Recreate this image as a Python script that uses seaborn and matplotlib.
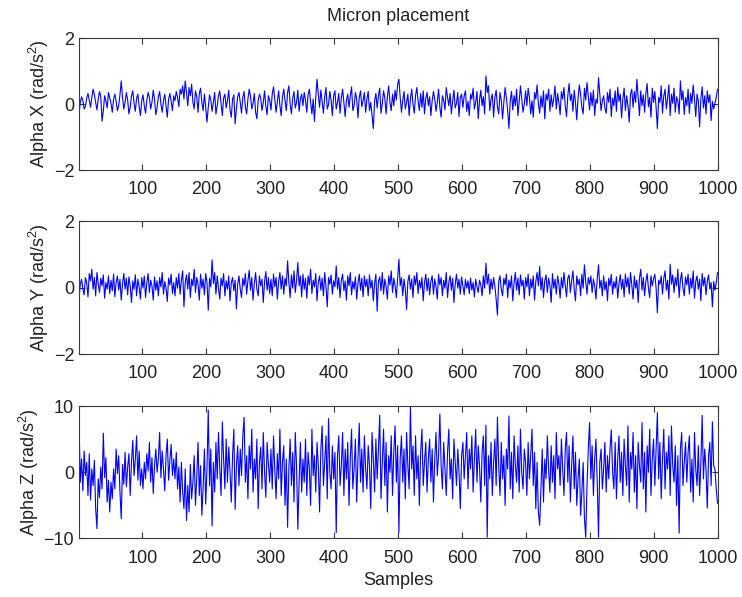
import numpy as np
import pandas as pd
import matplotlib
matplotlib.use("Agg")
import matplotlib.pyplot as plt
import seaborn as sns

# Angular acceleration traces (rad/s^2), evenly spread over samples 1..1000
alpha_x = [
    -0.30, 0.05, 0.22, 0.10, -0.15, -0.08, 0.18, 0.32, 0.12, -0.10, 0.20, 0.45, 0.28, 0.05, -0.18, 0.15, 0.38, 0.22, -0.52, -0.20, 0.25, 0.10, -0.12, 0.35, 0.18,
    0.02, -0.25, 0.15, 0.30, 0.08, -0.20, -0.05, 0.28, 0.70, 0.20, -0.15, 0.05, 0.35, 0.12, -0.30, -0.10, 0.25, 0.40, 0.02, -0.22, 0.18, 0.30, -0.08, -0.35, 0.10,
    0.28, -0.05, -0.28, 0.12, 0.35, 0.20, -0.15, 0.05, 0.42, 0.15, -0.32, -0.12, 0.22, 0.38, 0.00, -0.25, 0.10, 0.30, -0.05, -0.40, 0.15, 0.32, 0.08, -0.20, 0.25,
    0.10, 0.38, 0.20, -0.08, 0.45, 0.30, 0.55, 0.15, 0.70, 0.35, -0.05, 0.50, 0.25, 0.60, 0.05, -0.15, 0.40, 0.22, -0.25, 0.32, 0.48, 0.05, -0.20, 0.30, -0.10,
    -0.55, -0.10, 0.28, 0.12, -0.22, 0.05, 0.35, -0.30, -0.05, 0.25, 0.40, 0.02, -0.35, 0.18, 0.30, -0.12, 0.10, 0.42, -0.18, -0.40, 0.15, 0.28, -0.60, -0.15, 0.22,
    0.35, 0.05, -0.28, 0.20, 0.38, -0.10, -0.30, 0.15, 0.45, 0.25, -0.15, 0.02, 0.32, -0.25, -0.45, 0.10, 0.30, 0.18, -0.20, 0.05, 0.40, -0.08, -0.32, 0.25, 0.12,
    -0.18, 0.30, 0.52, 0.15, -0.25, 0.08, 0.40, -0.05, -0.35, 0.22, 0.45, 0.10, -0.20, 0.35, 0.55, 0.00, -0.30, 0.18, 0.38, -0.12, 0.05, 0.42, -0.22, 0.15, 0.30,
    -0.05, 0.35, 0.12, -0.25, 0.28, 0.45, 0.05, -0.30, 0.15, -0.53, 0.20, 0.75, 0.30, -0.10, 0.42, 0.08, -0.28, 0.22, 0.50, -0.15, -0.02, 0.38, 0.12, -0.35, 0.25,
    0.40, -0.15, 0.05, 0.32, -0.28, 0.18, 0.45, 0.02, -0.38, 0.12, 0.30, -0.10, 0.25, 0.52, -0.20, -0.05, 0.35, 0.15, -0.42, 0.20, 0.40, -0.08, 0.10, 0.35, -0.25,
    0.15, 0.38, -0.20, 0.05, -0.35, -0.74, 0.10, 0.32, -0.12, 0.25, 0.48, -0.28, 0.00, 0.40, 0.18, -0.30, 0.22, 0.55, 0.05, -0.20, 0.30, -0.05, 0.42, 0.12, 0.60,
    0.75, 0.20, -0.25, 0.10, 0.38, -0.15, 0.05, 0.30, -0.35, 0.15, 0.45, 0.00, -0.28, 0.25, 0.50, 0.08, -0.20, 0.32, -0.10, 0.40, -0.30, 0.18, 0.35, -0.05, 0.22,
    -0.35, 0.10, 0.38, 0.15, -0.22, 0.05, 0.45, -0.10, -0.40, 0.25, 0.12, -0.18, 0.50, 0.20, -0.05, 0.32, -0.30, 0.10, 0.42, -0.12, 0.02, 0.35, -0.38, 0.20, 0.30,
    -0.10, 0.25, 0.40, -0.22, 0.08, -0.35, 0.30, 0.15, 0.48, -0.15, 0.05, 0.38, -0.45, 0.12, 0.42, -0.05, 0.22, -0.30, 0.85, 0.35, 0.55, -0.20, 0.15, 0.30, -0.40,
    0.20, 0.42, -0.08, -0.30, 0.35, 0.12, -0.45, 0.05, 0.50, 0.18, -0.20, -0.74, 0.10, 0.38, -0.18, 0.25, -0.05, 0.45, -0.35, 0.08, 0.55, 0.15, -0.25, 0.00, 0.40,
    -0.05, 0.48, 0.20, -0.30, 0.10, -0.40, 0.35, 0.15, 0.58, 0.02, -0.28, 0.25, -0.10, 0.40, -0.45, 0.30, 0.12, 0.45, -0.22, 0.28, -0.08, 0.15, 0.55, -0.15, 0.32,
    0.05, -0.32, 0.38, 0.15, 0.50, -0.05, -0.38, 0.25, 0.62, 0.10, 0.30, -0.22, 0.42, 0.05, -0.48, 0.18, 0.58, 0.28, -0.10, -0.30, 0.48, 0.12, 0.65, 0.22, -0.18,
    0.35, -0.05, 0.42, -0.35, 0.15, 0.02, 0.80, 0.30, -0.20, 0.10, 0.25, -0.12, -0.28, 0.35, 0.05, 0.45, -0.38, 0.18, -0.05, 0.40, -0.22, 0.50, 0.08, 0.30, -0.42,
    0.15, 0.48, -0.20, 0.25, -0.05, -0.55, 0.30, 0.45, -0.10, 0.38, 0.05, 0.75, 0.22, -0.35, 0.40, -0.05, 0.28, -0.25, 0.32, 0.62, -0.08, 0.20, -0.40, 0.48, 0.05,
    0.38, -0.10, -0.74, 0.20, 0.05, 0.55, -0.28, 0.25, 0.45, -0.15, 0.18, 0.58, -0.35, 0.30, 0.02, 0.48, -0.25, 0.22, 0.10, -0.30, 0.70, 0.12, 0.40, -0.32, 0.20,
    -0.05, 0.45, -0.28, 0.32, 0.02, 0.58, 0.15, -0.38, 0.30, 0.10, -0.69, 0.15, 0.52, -0.12, 0.25, -0.30, 0.40, 0.05, 0.28, -0.50, 0.08, -0.15, 0.02, 0.20, 0.45,
]

alpha_y = [
    -0.35, 0.10, 0.25, -0.05, -0.22, 0.30, 0.15, -0.28, 0.42, 0.20, 0.55, -0.05, 0.30, -0.25, 0.45, 0.12, -0.15, 0.28, 0.05, 0.38, -0.32, 0.15, -0.05, 0.35, -0.18,
    0.22, -0.10, 0.40, -0.28, 0.15, 0.35, -0.08, 0.25, -0.38, 0.10, 0.42, -0.05, 0.28, -0.22, 0.32, 0.05, -0.45, 0.20, -0.05, 0.38, -0.25, 0.25, 0.02, -0.35, 0.30,
    -0.02, 0.35, -0.30, 0.15, 0.42, -0.15, 0.22, 0.05, -0.38, 0.32, -0.08, 0.20, -0.25, 0.30, 0.02, 0.45, -0.20, 0.18, -0.02, -0.42, 0.28, 0.08, 0.40, -0.18, 0.15,
    -0.25, 0.30, -0.02, 0.42, -0.20, 0.22, 0.50, -0.58, 0.15, 0.38, -0.05, 0.45, -0.30, 0.25, 0.05, 0.55, -0.15, 0.30, 0.10, -0.38, 0.40, -0.02, 0.25, -0.22, 0.42,
    0.15, -0.68, 0.28, 0.02, 0.83, 0.12, 0.45, -0.20, 0.35, -0.02, -0.35, 0.28, 0.05, 0.42, -0.25, 0.20, -0.05, 0.35, -0.40, 0.15, 0.30, -0.10, 0.22, -0.64, 0.10,
    0.35, -0.05, -0.30, 0.28, 0.05, 0.42, -0.20, 0.20, 0.52, -0.08, 0.30, -0.38, 0.12, 0.45, -0.05, -0.25, 0.35, 0.05, 0.25, -0.45, 0.18, 0.48, -0.08, 0.30, -0.18,
    0.25, -0.25, 0.40, 0.02, 0.30, -0.35, 0.18, 0.45, -0.05, 0.35, -0.20, 0.28, 0.05, 0.80, 0.15, -0.30, 0.38, -0.02, 0.50, -0.15, 0.22, 0.75, 0.05, 0.35, -0.28,
    0.40, -0.05, 0.28, -0.32, 0.35, 0.08, 0.55, -0.18, 0.22, 0.02, 0.42, -0.40, 0.15, 0.35, -0.08, 0.28, -0.25, 0.45, 0.02, -0.58, 0.30, 0.10, 0.38, -0.20, 0.20,
    0.02, 0.65, -0.05, 0.30, -0.30, 0.22, 0.40, -0.10, 0.20, -0.38, 0.35, 0.05, 0.45, -0.22, 0.18, -0.05, 0.32, -0.35, 0.12, 0.40, -0.08, 0.28, -0.28, 0.35, 0.02,
    0.25, -0.25, 0.38, -0.02, 0.22, -0.40, 0.12, 0.40, -0.71, 0.18, 0.32, -0.10, 0.45, -0.20, 0.25, 0.02, -0.35, 0.35, 0.08, 0.50, -0.15, 0.28, 0.05, -0.30, 0.30,
    0.85, 0.05, 0.30, -0.25, 0.25, -0.05, -0.66, 0.18, 0.38, -0.05, 0.25, -0.30, 0.35, 0.08, 0.45, -0.18, 0.22, -0.02, 0.30, -0.40, 0.15, 0.40, -0.10, 0.28, -0.22,
    0.20, 0.35, -0.20, 0.25, 0.02, -0.35, 0.40, 0.08, 0.30, -0.25, 0.22, -0.02, 0.45, -0.30, 0.15, 0.35, -0.08, 0.28, -0.45, 0.12, 0.40, -0.02, 0.25, -0.20, 0.32,
    0.05, -0.22, 0.25, -0.02, 0.20, -0.18, 0.28, -0.08, 0.15, -0.28, 0.25, 0.02, -0.15, 0.22, 0.08, -0.25, 0.35, -0.02, 0.73, 0.10, 0.40, -0.20, 0.25, -0.05, 0.30,
    0.05, -0.35, -0.83, 0.18, 0.35, -0.05, -0.25, 0.28, 0.08, 0.40, -0.30, 0.22, -0.02, 0.35, -0.40, 0.15, 0.45, -0.08, 0.28, -0.22, 0.38, 0.05, 0.22, -0.35, 0.30,
    0.02, 0.40, -0.25, 0.25, -0.02, 0.35, -0.38, 0.18, 0.45, 0.05, 0.63, -0.08, 0.30, -0.30, 0.20, 0.38, -0.15, 0.28, 0.08, -0.45, 0.42, -0.02, 0.25, -0.20, 0.35,
    0.12, -0.32, 0.30, -0.02, 0.45, 0.05, -0.28, 0.28, 0.38, -0.15, 0.20, 0.50, -0.05, -0.40, 0.35, 0.08, 0.25, -0.25, 0.40, -0.02, 0.68, 0.18, -0.20, 0.30, 0.10,
    0.35, -0.15, 0.25, 0.05, -0.35, 0.28, 0.68, -0.02, 0.22, -0.25, 0.35, -0.08, 0.18, -0.40, 0.28, 0.05, 0.40, -0.20, 0.18, -0.02, 0.32, -0.32, 0.12, 0.38, -0.05,
    0.25, -0.28, 0.40, 0.02, 0.30, -0.20, 0.45, 0.08, -0.35, 0.35, -0.02, 0.22, -0.45, 0.28, 0.55, -0.08, 0.30, -0.25, 0.18, 0.42, -0.02, -0.30, 0.35, 0.05, 0.25,
    0.40, -0.02, -0.76, 0.22, 0.10, 0.35, -0.20, 0.28, 0.50, -0.08, 0.22, -0.35, 0.70, 0.10, 0.38, -0.15, 0.30, 0.05, 0.55, -0.30, 0.22, 0.45, -0.02, -0.25, 0.32,
    0.08, 0.40, -0.20, 0.28, -0.02, 0.50, -0.32, 0.18, 0.35, -0.05, 0.25, -0.40, 0.42, 0.05, 0.30, -0.22, 0.20, 0.38, -0.05, 0.15, -0.58, 0.18, -0.08, 0.15, 0.45,
]

alpha_z = [
    7.4, -1.5, 2.0, -2.8, 3.2, -0.5, 1.5, -3.5, 2.8, -4.2, 0.5, -2.0, 1.8, -5.5, -8.5, -1.0, -3.8, 0.8, -2.5, 5.9, -0.8, 2.2, -4.5, -1.2, -6.0,
    -1.5, -4.0, 0.5, -2.5, 3.5, -0.2, 2.5, -3.0, -7.0, 1.2, -1.8, 3.0, -2.2, 0.8, 2.8, -3.5, 1.5, 4.8, -0.5, 2.0, 5.5, -1.2, 3.2, -2.0, 0.5,
    -2.5, 1.5, -1.0, 2.8, 0.2, 4.5, -1.5, 2.2, -3.2, 1.0, 3.5, 0.0, 2.0, 6.0, -0.8, 3.2, 0.5, -2.8, 2.5, 5.0, -1.2, 1.8, 4.2, -0.5, 2.0,
    -1.0, 3.0, -2.5, 0.8, -4.5, 1.5, -3.0, -5.5, 0.5, -7.3, -2.0, -6.0, 1.2, -4.0, -1.5, 2.5, -5.0, -0.8, 4.5, -3.5, 1.0, -6.5, -2.2, 3.5, -4.8,
    0.5, 9.4, -2.0, 3.5, -8.1, 1.5, -3.0, 4.5, -1.0, 6.0, 0.5, -3.5, 7.6, 2.0, -2.5, 5.0, -1.5, 3.8, 0.2, -4.5, 2.5, 6.5, -5.6, 1.0, 4.0,
    -2.0, 3.5, -0.5, 5.5, 8.3, -1.5, 2.5, -4.0, 4.0, 0.5, 6.5, -3.0, 2.0, -1.0, 5.0, -5.5, 1.5, 3.8, -2.5, 6.0, 0.0, -3.8, 4.5, 1.2, -1.5,
    3.5, -2.5, 5.5, 0.5, -4.0, 2.8, -1.0, 6.5, -3.5, 1.5, 4.0, -5.0, 2.0, -8.3, 0.5, 5.0, -2.0, 3.0, -4.5, 6.0, 1.0, -8.6, -1.5, 4.5, -3.0,
    2.0, -1.5, 5.0, -3.5, 3.0, 0.5, -5.0, 6.5, -0.5, 2.5, -3.0, 4.5, 1.0, -6.0, 3.5, 7.0, -2.0, 1.5, 5.5, -4.0, 8.1, 0.0, -2.5, 4.0, -1.0,
    3.0, -9.1, 2.5, 5.5, -2.0, 1.0, 6.0, -3.5, 3.5, -1.0, 4.5, -5.0, 2.0, 6.5, -2.5, 0.5, 5.0, -4.5, 2.0, 7.4, -1.5, 3.5, -3.0, 5.5, 0.5,
    -2.5, 4.0, 1.0, -5.5, 6.0, 2.0, -3.0, 5.0, -1.0, 3.5, 8.6, -4.0, 1.5, 6.5, -2.0, 4.5, -6.0, 2.5, 0.0, 5.5, -3.5, 3.0, 7.0, -1.5, 4.0,
    -9.1, 2.0, 5.5, -1.5, 3.5, -4.0, 6.0, 1.0, -2.5, 9.9, 0.5, 4.0, -3.5, 5.5, -1.0, 2.5, -5.0, 3.0, 6.5, -2.0, 1.5, 4.5, -3.0, 2.0, 5.0,
    -1.5, 3.5, -4.5, 2.0, 6.0, -0.5, 2.5, 8.8, 1.0, -2.5, 4.5, 0.5, -3.5, 3.0, 6.5, -1.0, 2.0, -4.0, 5.0, 1.5, -2.0, 3.5, 0.0, -5.5, 2.5,
    4.5, -1.0, 2.5, 6.0, -2.5, 3.5, 0.5, 5.5, -3.0, 2.0, 6.5, -1.5, 4.0, 1.0, -4.5, 3.0, 5.5, -2.0, 7.1, -9.8, 2.5, -1.0, 4.5, -3.5, 1.5,
    5.0, -2.0, 8.3, 1.0, -3.5, 4.5, -1.0, 2.5, -5.0, 3.5, 0.5, 8.5, -2.5, 3.0, -4.0, 5.5, 1.0, -1.5, 4.0, -3.0, 6.5, 0.0, -2.5, 3.5, 1.5,
    -3.5, 4.5, -1.0, 2.5, 6.5, -2.0, 3.0, -5.5, 1.5, -6.0, -8.0, -2.5, 3.5, -4.5, 2.0, -1.0, 5.5, 0.5, -3.0, 4.0, -1.5, 2.5, -4.0, 6.0, 0.5,
    2.5, -2.0, 5.0, 0.5, -3.5, 3.5, 6.0, -1.5, 4.0, -4.5, 1.0, 5.5, -2.5, 3.0, -5.0, -1.0, 2.0, -6.5, -3.0, 1.5, -7.0, -9.8, -2.0, 3.5, 7.5,
    -1.0, 4.0, -3.5, 2.0, 5.0, -1.5, -9.8, 1.5, 3.5, -2.5, 0.5, 4.5, -3.0, 2.5, -1.0, 3.5, 6.4, 0.0, -2.5, 4.5, -4.0, 2.0, 5.5, -1.5, 3.0,
    -3.5, 5.0, 1.0, -2.0, 7.0, -4.5, 3.0, 0.5, 6.0, -3.0, 2.5, -5.5, 4.5, 1.0, -1.5, 7.5, -2.5, 3.0, -6.0, 4.0, 0.0, 6.5, -3.5, 2.0, 5.0,
    -2.0, 3.5, 9.0, -1.0, 4.5, -4.0, 2.0, 6.5, -2.5, 3.0, 0.5, 5.5, -3.5, 7.0, 1.0, -1.5, 4.0, -5.0, 2.5, -9.2, 3.5, 6.0, -2.0, 1.5, 4.5,
    -1.5, 3.0, 5.5, -3.0, 2.0, -4.5, 6.0, 0.5, -2.0, 4.0, -3.5, 1.5, 8.6, -1.0, 3.5, 0.5, -5.4, 2.5, 4.5, -2.0, 7.6, 1.0, 0.5, -2.5, -4.7,
]

x_ticks = [100, 200, 300, 400, 500, 600, 700, 800, 900, 1000]
y_labels = ["Alpha X (rad/s$^2$)", "Alpha Y (rad/s$^2$)", "Alpha Z (rad/s$^2$)"]
y_ticks = [[-2, 0, 2], [-2, 0, 2], [-10, 0, 10]]
title = "Micron placement"
x_label = "Samples"

sns.set_theme(style="white")
plt.rcParams["font.family"] = ["Liberation Sans", "DejaVu Sans"]
plt.rcParams["mathtext.fontset"] = "custom"
plt.rcParams["mathtext.rm"] = "Liberation Sans"
plt.rcParams["mathtext.it"] = "Liberation Sans:italic"
plt.rcParams["mathtext.default"] = "rm"

samples = np.linspace(1, 1000, len(alpha_x))
frame = pd.DataFrame({"sample": samples, "x": alpha_x, "y": alpha_y, "z": alpha_z})

fig = plt.figure(figsize=(7.42, 5.97), dpi=100)
rects = [
    [0.1065, 0.7152, 0.8605, 0.2211],
    [0.1065, 0.4070, 0.8605, 0.2228],
    [0.1065, 0.0980, 0.8605, 0.2219],
]
text_color = "#222222"
frame_color = "#3a3a3a"

for rect, col, label, yt in zip(rects, ["x", "y", "z"], y_labels, y_ticks):
    ax = fig.add_axes(rect)
    sns.lineplot(data=frame, x="sample", y=col, ax=ax, color="#0000ff",
                 linewidth=0.8, estimator=None, sort=False)
    ax.set_xlim(1, 1000)
    ax.set_ylim(yt[0], yt[-1])
    ax.set_xticks(x_ticks)
    ax.set_yticks(yt)
    ax.set_ylabel(label, fontsize=13, color=text_color, labelpad=2)
    ax.set_xlabel("")
    ax.tick_params(direction="in", length=4, width=0.8, colors=frame_color,
                   labelsize=13, labelcolor=text_color)
    ax.tick_params(axis="x", bottom=True, top=True, pad=8)
    ax.tick_params(axis="y", left=True, right=True, pad=3.5)
    for side in ax.spines.values():
        side.set_color(frame_color)
        side.set_linewidth(0.8)
    if col == "x":
        ax.set_title(title, fontsize=13, color=text_color, pad=12)
    if col == "z":
        ax.set_xlabel(x_label, fontsize=13, color=text_color, labelpad=4)

fig.savefig("out.png", dpi=100)
